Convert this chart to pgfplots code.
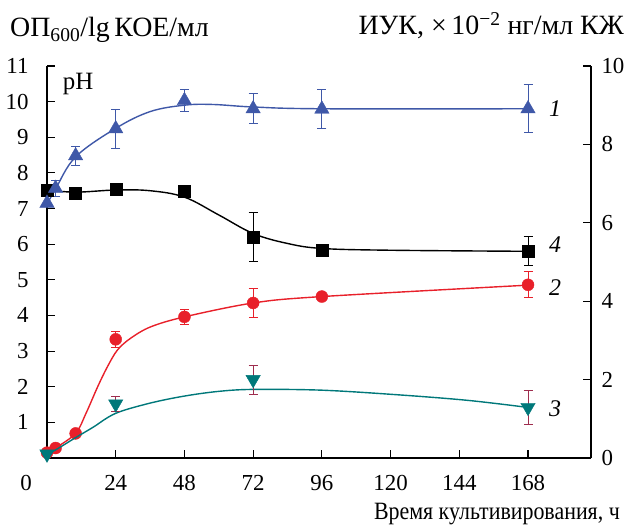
\documentclass[border=0pt]{standalone}
\usepackage{pgfplots}
\pgfplotsset{compat=1.18}
\usepackage{fontspec}
\setmainfont{Liberation Serif}
\newfontfamily\condfont[FakeStretch=0.88]{Liberation Serif}
\definecolor{cblue}{HTML}{3F58A8}
\definecolor{cred}{HTML}{E8202A}
\definecolor{cteal}{HTML}{00787A}
\definecolor{cmaroon}{HTML}{9E2D4E}
\newcommand{\tl}{\fontsize{23}{23}\selectfont}
\newcommand{\ttl}{\fontsize{28}{28}\selectfont}
\begin{document}
\begin{tikzpicture}
\useasboundingbox (0,0) rectangle (627bp,525bp);
\pgfplotsset{
  every axis/.append style={
    scale only axis, width=544bp, height=392bp,
    at={(47bp,67bp)}, anchor=south west,
    xmin=0, xmax=190,
    tick align=inside,
    major tick length=8bp,
    axis line style={line width=1.1bp, -},
    tick style={line width=1.1bp, black},
    tick label style={font=\tl},
    /pgf/number format/assume math mode=true,
    clip=false,
  },
}
\begin{axis}[
  axis x line*=bottom, axis y line*=left,
  ymin=0, ymax=11, ytick={1,...,11},
  xtick={24,48,...,168},
  yticklabel style={xshift=-15bp},
  xticklabel style={yshift=-14bp},
]
% curve 4 (black)
\addplot[black, line width=1.4bp, smooth, tension=0.6] coordinates {
(0,7.52) (10,7.46) (24,7.52) (36,7.5) (48,7.32) (60,6.82) (72,6.3) (84,6.02) (96,5.88) (120,5.83) (168,5.8)};
% curve 2 (red)
\addplot[cred, line width=1.4bp, smooth, tension=0.55] coordinates {
(0,0.12) (3,0.28) (10,0.69) (13.6,1.25) (17.7,2.0) (21.1,2.56) (24.6,3.03) (29.2,3.36) (36.2,3.68) (48,3.96) (72,4.35) (96,4.53) (168,4.85)};
% curve 1 (blue)
\addplot[cblue, line width=1.4bp, smooth, tension=0.6] coordinates {
(0,7.12) (3,7.55) (10,8.45) (24,9.25) (36,9.72) (48,9.9) (58,9.92) (72,9.85) (96,9.8) (168,9.8)};
% markers 4
\addplot[only marks, mark=square*, mark size=6bp, color=black,
  error bars/.cd, y dir=both, y explicit,
  error bar style={line width=1bp, black},
  error mark options={line width=1bp, black, mark size=4.5bp, rotate=90}]
coordinates {
(0,7.52) +- (0,0)
(10,7.43) +- (0,0)
(24,7.54) +- (0,0)
(48,7.5) +- (0,0)
(72,6.2) +- (0,0.69)
(96,5.84) +- (0,0)
(168,5.8) +- (0,0.41)};
% markers 2
\addplot[only marks, mark=*, mark size=6bp, color=cred,
  error bars/.cd, y dir=both, y explicit,
  error bar style={line width=1bp, cred},
  error mark options={line width=1bp, cred, mark size=4.5bp, rotate=90}]
coordinates {
(0,0.15) +- (0,0)
(3,0.28) +- (0,0)
(10,0.69) +- (0,0)
(24,3.33) +- (0,0.22)
(48,3.96) +- (0,0.2)
(72,4.35) +- (0,0.41)
(96,4.53) +- (0,0)
(168,4.86) +- (0,0.36)};
% markers 1
\addplot[only marks, mark=triangle*, mark size=8.3bp, color=cblue,
  error bars/.cd, y dir=both, y explicit,
  error bar style={line width=1bp, cblue},
  error mark options={line width=1bp, cblue, mark size=4.5bp, rotate=90}]
coordinates {
(0,7.15) +- (0,0)
(3,7.57) +- (0,0.23)
(10,8.48) +- (0,0.26)
(24,9.24) +- (0,0.55)
(48,10.03) +- (0,0.3)
(72,9.8) +- (0,0.42)
(96,9.79) +- (0,0.54)
(168,9.8) +- (0,0.67)};
\node[anchor=north, font=\tl, xshift=-21bp, yshift=-14bp] at (rel axis cs:0,0) {0};
\node[anchor=base west, font=\fontsize{25}{25}\selectfont, inner sep=0] at (axis cs:5.5,10.33) {pH};
\node[font=\fontsize{24}{24}\selectfont\itshape] at (axis cs:177.5,9.81) {1};
\node[font=\fontsize{24}{24}\selectfont\itshape] at (axis cs:177.5,5.98) {4};
\node[font=\fontsize{24}{24}\selectfont\itshape] at (axis cs:177.5,4.78) {2};
\node[font=\fontsize{24}{24}\selectfont\itshape] at (axis cs:177.5,1.39) {3};
\end{axis}
\begin{axis}[
  axis x line=none, axis y line*=right,
  ymin=0, ymax=10, ytick={0,2,...,10},
  yticklabel style={xshift=7bp},
]
% curve 3 (teal)
\addplot[cteal, line width=1.4bp, smooth, tension=0.55] coordinates {
(0,0.08) (4,0.25) (10,0.52) (16,0.78) (24,1.14) (36,1.4) (48,1.58) (60,1.7) (72,1.75) (96,1.73) (123,1.61) (147,1.47) (168,1.29)};
\addplot[only marks, mark=triangle*, mark options={rotate=180}, mark size=8.3bp, color=cteal,
  error bars/.cd, y dir=both, y explicit,
  error bar style={line width=1bp, cmaroon},
  error mark options={line width=1bp, cmaroon, mark size=4.5bp, rotate=90}]
coordinates {
(0,0.1) +- (0,0)
(24,1.38) +- (0,0.2)
(72,2.0) +- (0,0.37)
(168,1.29) +- (0,0.44)};
\end{axis}
\node[anchor=base west, font=\ttl, inner sep=0] at (10bp,488bp) {ОП\textsubscript{600}/lg\,КОЕ/мл};
\node[anchor=base east, font=\ttl, inner sep=0] at (624bp,490bp) {ИУК, ×\,10\textsuperscript{−2} нг/мл КЖ};
\node[anchor=base east, font=\condfont\fontsize{25}{25}\selectfont, inner sep=0] at (620bp,6bp) {Время культивирования, ч};
\end{tikzpicture}
\end{document}
